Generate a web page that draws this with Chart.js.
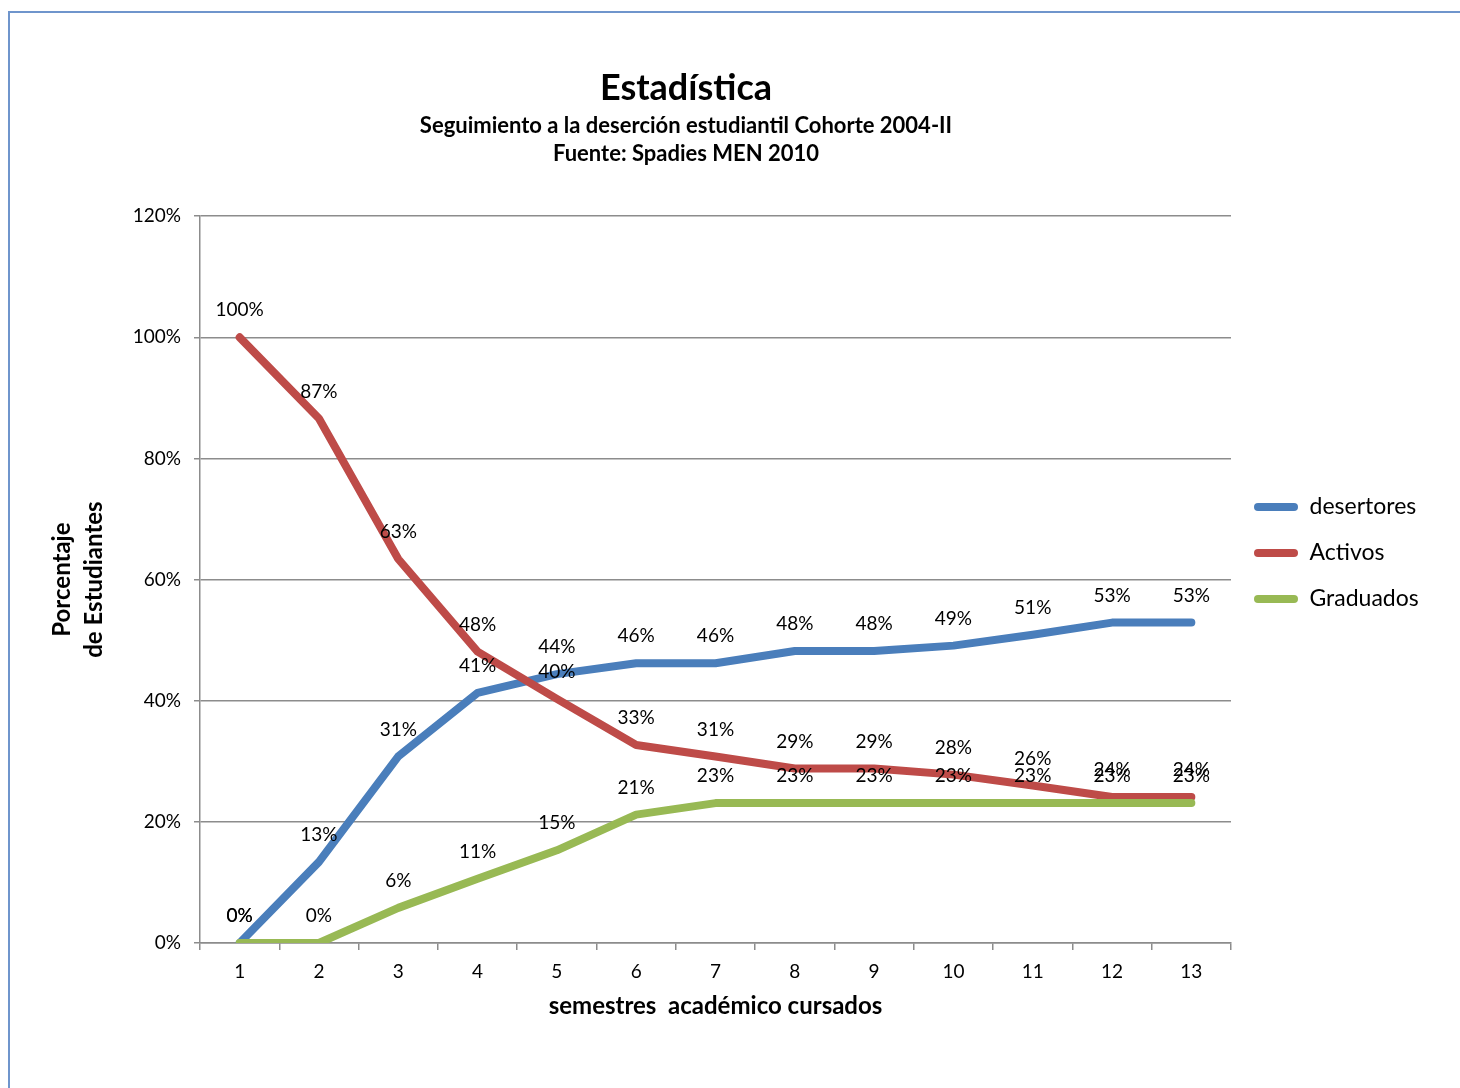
<!DOCTYPE html>
<html>
<head>
<meta charset="utf-8">
<title>Estadística</title>
<script src="https://cdn.jsdelivr.net/npm/chart.js@4.4.1/dist/chart.umd.min.js"></script>
<style>
  html, body { margin: 0; padding: 0; background: #fff; overflow: hidden; }
  #marco {
    position: absolute; left: 8px; top: 11px; width: 1452px; height: 1077px;
    border-left: 2px solid #6f95cc; border-top: 2px solid #6f95cc;
  }
  /* el lienzo empieza a la izquierda de la ventana para que el título quede centrado como en el original */
  #contenedor { position: absolute; left: -60px; top: 0; width: 1520px; height: 1088px; }
</style>
</head>
<body>
<div id="marco"></div>
<div id="contenedor"><canvas id="chartEstadistica"></canvas></div>
<script>
// Datos (porcentaje de estudiantes por semestre)
const semestres = ['1', '2', '3', '4', '5', '6', '7', '8', '9', '10', '11', '12', '13'];
const desertores = [0, 13.4, 30.8, 41.3, 44.4, 46.2, 46.2, 48.2, 48.2, 49.1, 50.9, 52.9, 52.9];
const activos = [100, 86.6, 63.4, 48.1, 40.3, 32.7, 30.8, 28.8, 28.8, 27.8, 26.0, 24.1, 24.1];
const graduados = [0, 0, 5.8, 10.6, 15.3, 21.2, 23.1, 23.1, 23.1, 23.1, 23.1, 23.1, 23.1];
const etiquetasY = ['0%', '20%', '40%', '60%', '80%', '100%', '120%'];

const fuente = 'Lato, "Open Sans", sans-serif';

// Etiquetas de valor encima de cada punto
const etiquetasPlugin = {
    id: 'etiquetas',
    afterDatasetsDraw(chart) {
        const ctx = chart.ctx;
        ctx.save();
        ctx.font = '19px ' + fuente;
        ctx.fillStyle = '#000';
        ctx.textAlign = 'center';
        ctx.textBaseline = 'middle';
        chart.data.datasets.forEach((ds, i) => {
            chart.getDatasetMeta(i).data.forEach((pt, j) => {
                ctx.fillText(Math.round(ds.data[j]) + '%', pt.x, pt.y - 27);
            });
        });
        ctx.restore();
    }
};

// Ancho fijo para la leyenda, así el área del gráfico queda donde debe
const anchoLeyenda = {
    id: 'anchoLeyenda',
    beforeInit(chart) {
        const fit = chart.legend.fit;
        chart.legend.fit = function () {
            fit.call(this);
            this.width = 201;
        };
    }
};

const ctx = document.getElementById('chartEstadistica');
new Chart(ctx.getContext('2d'), {
    type: 'line',
    data: {
        labels: semestres,
        datasets: [{
            label: 'desertores',
            data: desertores,
            borderColor: '#4a7ebb',
            backgroundColor: '#4a7ebb',
            order: 2
        }, {
            label: 'Activos',
            data: activos,
            borderColor: '#be4b48',
            backgroundColor: '#be4b48',
            order: 1
        }, {
            label: 'Graduados',
            data: graduados,
            borderColor: '#98b954',
            backgroundColor: '#98b954',
            order: 0
        }]
    },
    options: {
        responsive: true,
        maintainAspectRatio: false,
        animation: false,
        elements: {
            line: { borderWidth: 8, tension: 0, borderCapStyle: 'round', borderJoinStyle: 'round', fill: false },
            point: { radius: 0, hoverRadius: 0 }
        },
        layout: { padding: { left: 0, top: 18, right: 28, bottom: 0 } },
        plugins: {
            title: {
                display: true,
                text: 'Estadística',
                color: '#000',
                font: { family: fuente, size: 36, weight: 'bold', lineHeight: 1.2 },
                padding: { top: 49, bottom: 2 }
            },
            subtitle: {
                display: true,
                text: ['Seguimiento a la deserción estudiantil Cohorte 2004-II', 'Fuente: Spadies MEN 2010'],
                color: '#000',
                font: { family: fuente, size: 22, weight: 'bold', lineHeight: 1.273 },
                padding: { top: 0, bottom: 48 }
            },
            legend: {
                position: 'right',
                labels: {
                    boxWidth: 44,
                    boxHeight: 8,
                    useBorderRadius: true,
                    borderRadius: 4,
                    padding: 23,
                    color: '#000',
                    font: { family: fuente, size: 23 },
                    sort: (a, b) => a.datasetIndex - b.datasetIndex,
                    generateLabels: function (chart) {
                        return Chart.defaults.plugins.legend.labels.generateLabels(chart).map(function (item) {
                            item.lineWidth = 0;
                            item.fillStyle = item.strokeStyle;
                            return item;
                        });
                    }
                }
            },
            tooltip: { enabled: false }
        },
        scales: {
            x: {
                offset: true,
                grid: { offset: true, drawOnChartArea: false, drawTicks: true, tickLength: 7, color: '#8c8c8c', lineWidth: 1.5 },
                border: { color: '#8c8c8c', width: 1.5 },
                ticks: { color: '#000', font: { family: fuente, size: 19 }, padding: 10 },
                title: {
                    display: true,
                    text: 'semestres  académico cursados',
                    color: '#000',
                    font: { family: fuente, size: 24, weight: 'bold' },
                    padding: { top: 0, bottom: 67 }
                },
                afterFit: function (scale) { scale.height = 145; }
            },
            y: {
                min: 0,
                max: 120,
                grid: { color: '#8c8c8c', lineWidth: 1.5, tickLength: 6 },
                border: { color: '#8c8c8c', width: 1.5 },
                ticks: {
                    stepSize: 20,
                    color: '#000',
                    font: { family: fuente, size: 19 },
                    padding: 13,
                    callback: function (value, index) { return etiquetasY[index]; }
                },
                title: {
                    display: true,
                    text: ['Porcentaje', 'de Estudiantes'],
                    color: '#000',
                    font: { family: fuente, size: 24, weight: 'bold', lineHeight: 1.3 },
                    padding: { top: 107, bottom: 0 }
                },
                afterFit: function (scale) { scale.width = 260; }
            }
        }
    },
    plugins: [etiquetasPlugin, anchoLeyenda]
});
</script>
</body>
</html>
